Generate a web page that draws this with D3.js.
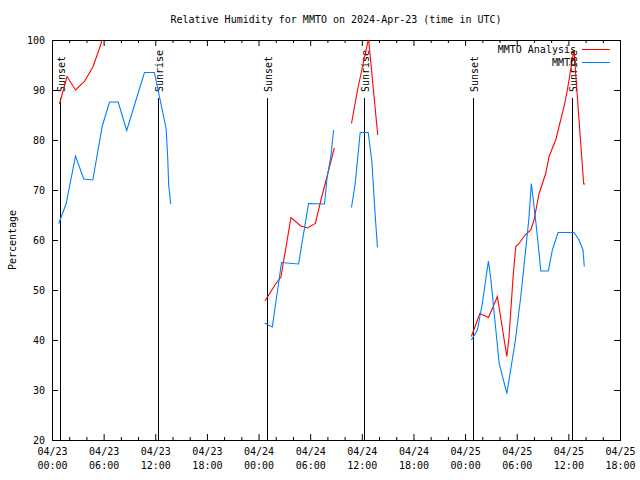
<!DOCTYPE html>
<html>
<head>
<meta charset="utf-8">
<script src="https://cdn.jsdelivr.net/npm/d3@7"></script>
<style>
  html, body { margin: 0; padding: 0; background: #fff; }
  svg { display: block; }
  text { font-family: "DejaVu Sans Mono", "Liberation Mono", monospace; font-size: 10px; fill: #000; }
</style>
</head>
<body>
<svg id="chart" width="640" height="480"></svg>
<script>
// ---------------- data (hours since 2024-04-23 00:00 UTC) ----------------
const startUTC = Date.UTC(2024, 3, 23, 0, 0);
const endHours = 66;

const analysisHours = [0.87, 1.75, 2.73, 3.77, 4.75, 5.45, 6.1, null,
  24.75, 25.9, 26.6, 27.77, 28.9, 29.7, 30.6, 31.25, 32.0, 32.8, null,
  34.8, 35.5, 36.78, 37.85, null,
  48.73, 49.16, 49.71, 50.71, 51.17, 51.75, 52.85, 53.1, 53.58, 53.89, 54.27, 54.97, 55.63, 56.01, 56.6, 57.37, 57.76, 58.53, 59.5, 59.88, 60.65, 61.78, 61.95];
const analysisValues = [87.2, 92.7, 90.0, 91.7, 94.6, 98.0, 101.5, null,
  47.8, 51.0, 52.6, 64.5, 62.8, 62.4, 63.3, 68.0, 73.0, 78.4, null,
  83.3, 90.0, 100.3, 81.0, null,
  40.7, 42.7, 45.3, 44.5, 46.3, 48.7, 36.7, 40.5, 52.7, 58.7, 59.3, 61.0, 62.0, 64.0, 69.3, 73.3, 76.7, 80.0, 86.7, 90.0, 98.0, 71.2, 71.2];

const mmtoHours = [0.79, 1.65, 2.73, 3.69, 4.74, 5.83, 6.68, 7.69, 8.68, 10.74, 11.9, 13.26, 13.44, 13.56, 13.79, null,
  24.7, 25.6, 26.67, 28.65, 29.81, 31.67, 31.95, 32.4, 32.72, null,
  34.8, 35.23, 35.81, 36.74, 37.17, 37.56, 37.82, null,
  48.73, 49.43, 50.0, 50.71, 51.0, 51.96, 52.85, 53.85, 54.47, 55.4, 55.7, 56.28, 56.6, 56.79, 57.67, 58.14, 58.8, 60.66, 61.24, 61.7, 61.85];
const mmtoValues = [63.3, 67.3, 76.8, 72.2, 72.0, 82.7, 87.6, 87.6, 81.9, 93.5, 93.5, 82.3, 76.7, 71.0, 67.2, null,
  43.4, 42.6, 55.5, 55.2, 67.3, 67.2, 72.3, 76.7, 82.0, null,
  66.5, 71.3, 81.5, 81.5, 75.7, 64.7, 58.5, null,
  40.0, 42.0, 47.3, 55.8, 52.0, 35.3, 29.3, 40.0, 48.7, 64.0, 71.3, 62.7, 57.3, 53.8, 53.8, 58.0, 61.5, 61.5, 60.0, 58.0, 54.7];

const sunHours  = [0.92, 12.29, 24.94, 36.31, 48.97, 60.39];
const sunLabels = ["Sunset", "Sunrise", "Sunset", "Sunrise", "Sunset", "Sunrise"];

const seriesNames  = ["MMTO Analysis", "MMTO"];
const seriesColors = ["#ff0000", "#0080ff"];

const yTicks = [20, 30, 40, 50, 60, 70, 80, 90, 100];
const titleText = "Relative Humidity for MMTO on 2024-Apr-23 (time in UTC)";
const yLabel = "Percentage";

// ---------------- chart ----------------
const toDate = h => new Date(startUTC + h * 3600000);
const svg = d3.select("#chart");
const L = 52, R = 620, T = 40, B = 440;

const x = d3.scaleUtc().domain([toDate(0), toDate(endHours)]).range([L, R]);
const y = d3.scaleLinear().domain([20, 100]).range([B, T]);

svg.append("defs").append("clipPath").attr("id", "plotclip")
  .append("rect").attr("x", L).attr("y", T).attr("width", R - L + 1).attr("height", B - T + 1);

// minor x ticks (every 2h, excluding majors)
const minorTicks = x.ticks(d3.utcHour.every(2)).filter(d => d.getUTCHours() % 6 !== 0);
const majorTicks = x.ticks(d3.utcHour.every(6));

svg.append("g").attr("transform", `translate(0,${B})`)
  .call(d3.axisBottom(x).tickValues(minorTicks).tickSizeInner(-3).tickSizeOuter(0).tickFormat(""))
  .call(g => g.select(".domain").remove());
svg.append("g").attr("transform", `translate(0,${T})`)
  .call(d3.axisTop(x).tickValues(minorTicks).tickSizeInner(-3).tickSizeOuter(0).tickFormat(""))
  .call(g => g.select(".domain").remove());

const fmtDay = d3.utcFormat("%m/%d"), fmtHour = d3.utcFormat("%H:%M");
const xb = svg.append("g").attr("transform", `translate(0,${B})`)
  .call(d3.axisBottom(x).tickValues(majorTicks).tickSizeInner(-6).tickSizeOuter(0).tickPadding(8).tickFormat(""))
  .call(g => g.select(".domain").remove());
xb.selectAll(".tick text").each(function(d) {
  const t = d3.select(this).attr("font-family", null).attr("font-size", null).attr("dy", "0.71em");
  t.append("tspan").attr("x", 0).text(fmtDay(d));
  t.append("tspan").attr("x", 0).attr("dy", 14).text(fmtHour(d));
});
svg.append("g").attr("transform", `translate(0,${T})`)
  .call(d3.axisTop(x).tickValues(majorTicks).tickSizeInner(-6).tickSizeOuter(0).tickFormat(""))
  .call(g => g.select(".domain").remove());

svg.append("g").attr("transform", `translate(${L},0)`)
  .call(d3.axisLeft(y).tickValues(yTicks).tickSizeInner(-6).tickSizeOuter(0).tickPadding(7))
  .call(g => g.select(".domain").remove())
  .call(g => g.selectAll("text").attr("font-family", null).attr("font-size", null));
svg.append("g").attr("transform", `translate(${R},0)`)
  .call(d3.axisRight(y).tickValues(yTicks).tickSizeInner(-6).tickSizeOuter(0).tickFormat(""))
  .call(g => g.select(".domain").remove());

// frame
svg.append("rect").attr("x", L + 0.5).attr("y", T + 0.5).attr("width", R - L).attr("height", B - T)
  .attr("fill", "none").attr("stroke", "#000").attr("stroke-width", 1);

// sunrise / sunset markers
const sun = svg.append("g");
sunHours.forEach((h, i) => {
  const sx = Math.round(x(toDate(h))) + 0.5;
  sun.append("line").attr("x1", sx).attr("x2", sx).attr("y1", 98).attr("y2", B)
    .attr("stroke", "#000").attr("stroke-width", 1);
  sun.append("text").attr("transform", `translate(${sx + 4},92) rotate(-90)`)
    .attr("text-anchor", "start").text(sunLabels[i]);
});

// series lines
const allSeries = [
  { hours: analysisHours, values: analysisValues },
  { hours: mmtoHours, values: mmtoValues }
];
const line = d3.line()
  .defined(d => d[1] !== null)
  .x(d => x(toDate(d[0])))
  .y(d => y(d[1]));
const plot = svg.append("g").attr("clip-path", "url(#plotclip)");
allSeries.forEach((s, i) => {
  const pts = s.hours.map((h, j) => [h, s.values[j]]);
  plot.append("path").datum(pts)
    .attr("fill", "none").attr("stroke", seriesColors[i]).attr("stroke-width", 1.1)
    .attr("d", line);
});

// legend
seriesNames.forEach((n, i) => {
  const ly = 49 + i * 13;
  svg.append("text").attr("x", 576).attr("y", ly).attr("dy", "0.35em")
    .attr("text-anchor", "end").text(n);
  svg.append("line").attr("x1", 582).attr("x2", 610).attr("y1", ly + 0.5).attr("y2", ly + 0.5)
    .attr("stroke", seriesColors[i]).attr("stroke-width", 1);
});

// title and y label
svg.append("text").attr("x", 336).attr("y", 19).attr("dy", "0.35em")
  .attr("text-anchor", "middle").text(titleText);
svg.append("text").attr("transform", "translate(12,240) rotate(-90)")
  .attr("dy", "0.35em").attr("text-anchor", "middle").text(yLabel);
</script>
</body>
</html>
